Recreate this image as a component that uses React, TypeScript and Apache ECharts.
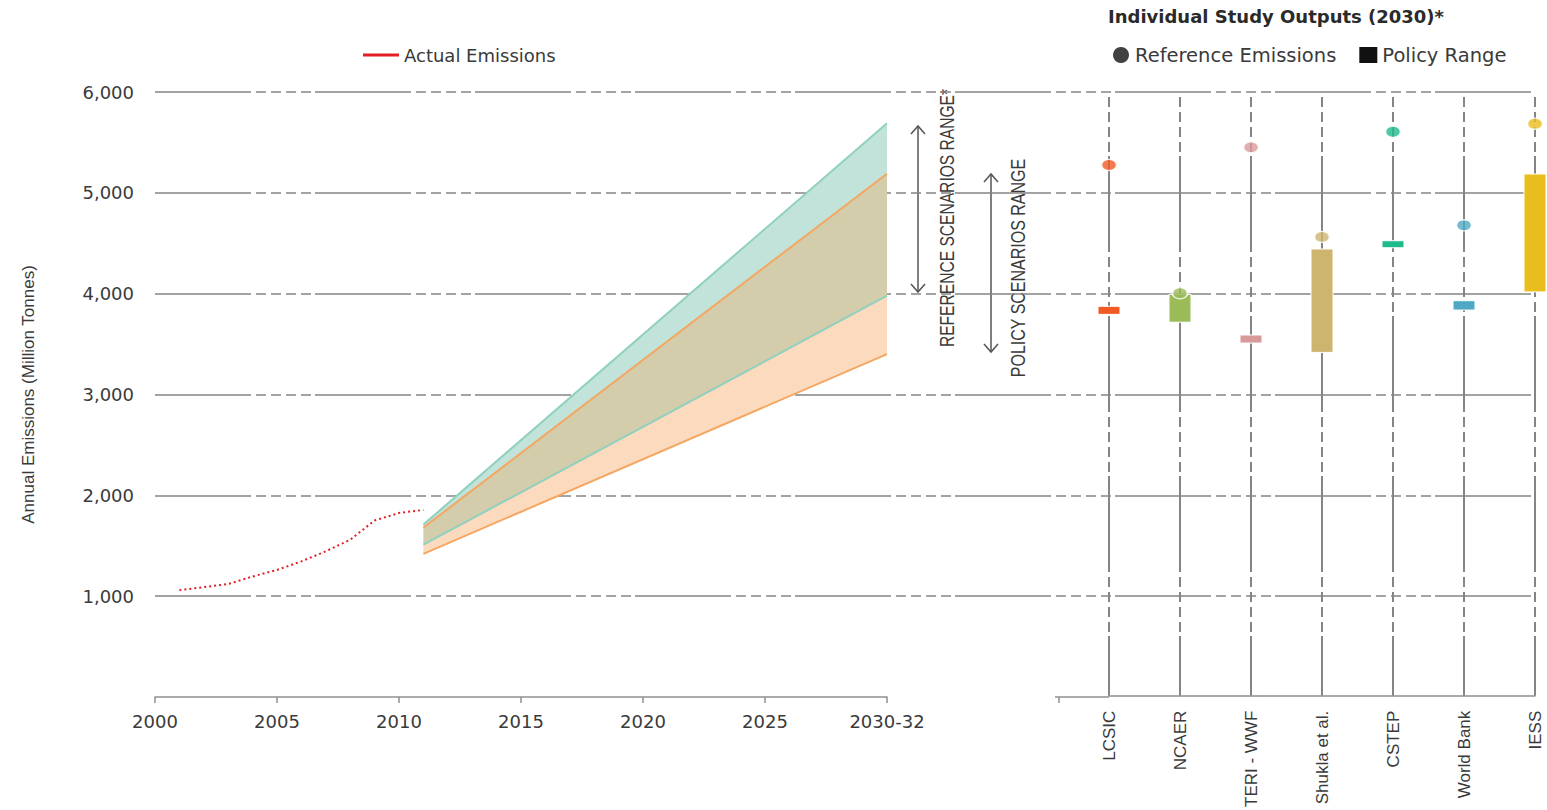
import React, { useEffect, useRef } from "react";
import * as echarts from "echarts";

// ---------- data ----------
const actualYears = [2001, 2002, 2003, 2004, 2005, 2006, 2007, 2008, 2009, 2010, 2011];
const actualValues = [1060, 1090, 1120, 1195, 1260, 1345, 1445, 1560, 1750, 1825, 1855];

const projYears = [2011, 2030];
const refHigh = [1710, 5690];
const refLow = [1510, 3980];
const polHigh = [1680, 5190];
const polLow = [1420, 3400];

const studies = ["LCSIC", "NCAER", "TERI - WWF", "Shukla et al.", "CSTEP", "World Bank", "IESS"];
const refEmissions = [5275, 4000, 5450, 4560, 5605, 4675, 5685];
const policyLow = [3790, 3712, 3505, 3412, 4452, 3833, 4013];
const policyHigh = [3870, 3990, 3585, 4440, 4522, 3926, 5185];
const studyColors = ["#f15a24", "#9bbb59", "#d9999a", "#cdb56f", "#1fba8b", "#4fa9c4", "#e8bd1d"];

const yTickLabels = ["", "1,000", "2,000", "3,000", "4,000", "5,000", "6,000"];
const xTickLabels = ["2000", "2005", "2010", "2015", "2020", "2025", "2030-32"];

// ---------- styles ----------
const NARROW = "'Liberation Sans', Arial, sans-serif";
const WIDE = "'DejaVu Sans', sans-serif";
const TEXT = "#3a3a3a";
const GRID = "#858585";
const DASH = [96, 5, 10, 5, 10, 5, 10, 5, 10, 4];

export default function App() {
  const ref = useRef<HTMLDivElement>(null);

  useEffect(() => {
    if (!ref.current) return;
    const chart = echarts.init(ref.current, null, { renderer: "svg" });

    const pair = (xs: number[], ys: number[]) => xs.map((x, i) => [x, ys[i]]);

    const band = (lower: number[], upper: number[], color: string, z: number) => ({
      type: "custom",
      xAxisIndex: 0,
      yAxisIndex: 0,
      silent: true,
      z,
      data: projYears.map((x, i) => [x, lower[i], upper[i]]),
      encode: { x: 0, y: [1, 2] },
      renderItem: (params: any, api: any) => {
        if (params.dataIndex !== 0) return { type: "group", children: [] };
        const pts: number[][] = [];
        for (let i = 0; i < projYears.length; i++) pts.push(api.coord([projYears[i], upper[i]]));
        for (let i = projYears.length - 1; i >= 0; i--) pts.push(api.coord([projYears[i], lower[i]]));
        return { type: "polygon", shape: { points: pts }, style: { fill: color } };
      },
    });

    const edge = (ys: number[], color: string, z: number) => ({
      type: "line",
      xAxisIndex: 0,
      yAxisIndex: 0,
      data: pair(projYears, ys),
      symbol: "none",
      lineStyle: { color, width: 2 },
      silent: true,
      z,
    });

    const option: any = {
      animation: false,
      backgroundColor: "#ffffff",
      grid: [
        { left: 155, top: 92, width: 732, height: 605 },
        { left: 155, top: 92, width: 1380, height: 605 },
        { left: 1109, top: 92, width: 426, height: 605 },
      ],
      legend: [
        {
          left: 358,
          top: 41,
          selectedMode: false,
          itemWidth: 36,
          itemHeight: 3,
          icon: "rect",
          data: [{ name: "Actual Emissions", itemStyle: { color: "#e31e24" } }],
          textStyle: { fontFamily: WIDE, fontSize: 18, color: TEXT },
        },
        {
          left: 1108,
          top: 40,
          selectedMode: false,
          itemWidth: 18,
          itemHeight: 16,
          itemGap: 23,
          data: [
            { name: "Reference Emissions", icon: "circle", itemStyle: { color: "#111" } },
            { name: "Policy Range", icon: "rect", itemStyle: { color: "#111" } },
          ],
          textStyle: { fontFamily: WIDE, fontSize: 19.5, color: TEXT },
        },
      ],
      xAxis: [
        {
          type: "value",
          gridIndex: 0,
          min: 2000,
          max: 2030,
          interval: 5,
          axisLine: { onZero: false, lineStyle: { color: "#8f8f8f", width: 1.5 } },
          axisTick: { show: true, length: 6, lineStyle: { color: "#8f8f8f", width: 1.5 } },
          axisLabel: {
            margin: 15,
            fontFamily: WIDE,
            fontSize: 18,
            color: TEXT,
            formatter: (v: number) => xTickLabels[Math.round((v - 2000) / 5)] ?? "",
          },
          splitLine: { show: false },
        },
        { type: "value", gridIndex: 1, min: 0, max: 1, show: false },
        {
          type: "category",
          gridIndex: 2,
          data: studies,
          boundaryGap: false,
          axisLine: { show: true, onZero: false, lineStyle: { color: "#8f8f8f", width: 1.5 } },
          axisTick: { show: false },
          axisLabel: {
            rotate: 90,
            margin: 15,
            fontFamily: NARROW,
            fontSize: 17,
            color: TEXT,
            interval: 0,
          },
          splitLine: {
            show: true,
            lineStyle: { color: GRID, width: 2, type: DASH, dashOffset: 96 },
          },
        },
      ],
      yAxis: [
        {
          type: "value",
          gridIndex: 0,
          min: 0,
          max: 6000,
          interval: 1000,
          name: "Annual Emissions (Million Tonnes)",
          nameLocation: "middle",
          nameRotate: 90,
          nameGap: 118,
          nameTextStyle: { fontFamily: NARROW, fontSize: 17, color: TEXT },
          axisLine: { show: false },
          axisTick: { show: false },
          splitLine: { show: false },
          axisLabel: {
            margin: 21,
            fontFamily: WIDE,
            fontSize: 18,
            color: TEXT,
            formatter: (v: number) => yTickLabels[Math.round(v / 1000)] ?? "",
          },
        },
        {
          type: "value",
          gridIndex: 1,
          min: 0,
          max: 6000,
          interval: 1000,
          axisLine: { show: false },
          axisTick: { show: false },
          axisLabel: { show: false },
          splitLine: {
            show: true,
            showMinLine: false,
            lineStyle: { color: GRID, width: 1.5, type: DASH },
          },
        },
        { type: "value", gridIndex: 2, min: 0, max: 6000, show: false },
      ],
      series: [
        band(polLow, refLow, "#fcdabd", 2),
        band(refLow, polHigh, "#d3cdab", 2),
        band(polHigh, refHigh, "#c1e3da", 2),
        edge(refHigh, "#8fd0be", 3),
        edge(refLow, "#8fd0be", 3),
        edge(polHigh, "#f5a661", 4),
        edge(polLow, "#f5a661", 4),
        {
          name: "Actual Emissions",
          type: "line",
          xAxisIndex: 0,
          yAxisIndex: 0,
          data: pair(actualYears, actualValues),
          symbol: "none",
          color: "#e31e24",
          lineStyle: { color: "#e31e24", width: 2, type: [2, 3] },
          z: 5,
        },
        {
          name: "Policy Range",
          type: "custom",
          xAxisIndex: 2,
          yAxisIndex: 2,
          data: studies.map((_, i) => [i, policyLow[i], policyHigh[i]]),
          encode: { x: 0, y: [1, 2] },
          renderItem: (params: any, api: any) => {
            const x = api.value(0);
            const lo = api.coord([x, api.value(1)]);
            const hi = api.coord([x, api.value(2)]);
            const w = 22;
            return {
              type: "rect",
              shape: { x: lo[0] - w / 2, y: hi[1], width: w, height: lo[1] - hi[1] },
              style: { fill: studyColors[params.dataIndex], stroke: "#ffffff", lineWidth: 1 },
            };
          },
          z: 5,
        },
        {
          name: "Reference Emissions",
          type: "scatter",
          xAxisIndex: 2,
          yAxisIndex: 2,
          symbol: "circle",
          symbolSize: [15, 11],
          data: studies.map((_, i) => ({
            value: [i, refEmissions[i]],
            itemStyle: { color: studyColors[i], borderColor: "#ffffff", borderWidth: 1.5 },
          })),
          z: 6,
        },
      ],
      graphic: [
        {
          type: "text",
          left: 1108,
          top: 7,
          style: {
            text: "Individual Study Outputs (2030)*",
            font: `bold 18px ${WIDE}`,
            fill: "#2a2a2a",
          },
        },
        {
          type: "line",
          shape: { x1: 1055, y1: 697, x2: 1109, y2: 697 },
          style: { stroke: "#8f8f8f", lineWidth: 1.5 },
        },
        {
          type: "line",
          shape: { x1: 1059, y1: 697, x2: 1059, y2: 703 },
          style: { stroke: "#8f8f8f", lineWidth: 1.5 },
        },
        {
          type: "line",
          shape: { x1: 918, y1: 126, x2: 918, y2: 292 },
          style: { stroke: "#555", lineWidth: 1.5 },
        },
        {
          type: "polyline",
          shape: { points: [[911, 134], [918, 126], [925, 134]] },
          style: { stroke: "#555", lineWidth: 1.5, fill: null },
        },
        {
          type: "polyline",
          shape: { points: [[911, 284], [918, 292], [925, 284]] },
          style: { stroke: "#555", lineWidth: 1.5, fill: null },
        },
        {
          type: "text",
          x: 947,
          y: 218,
          rotation: Math.PI / 2,
          scaleX: 0.78,
          style: {
            text: "REFERENCE SCENARIOS RANGE*",
            font: `20px ${NARROW}`,
            fill: TEXT,
            align: "center",
            verticalAlign: "middle",
          },
        },
        {
          type: "line",
          shape: { x1: 991, y1: 174, x2: 991, y2: 352 },
          style: { stroke: "#555", lineWidth: 1.5 },
        },
        {
          type: "polyline",
          shape: { points: [[984, 182], [991, 174], [998, 182]] },
          style: { stroke: "#555", lineWidth: 1.5, fill: null },
        },
        {
          type: "polyline",
          shape: { points: [[984, 344], [991, 352], [998, 344]] },
          style: { stroke: "#555", lineWidth: 1.5, fill: null },
        },
        {
          type: "text",
          x: 1018,
          y: 268,
          rotation: Math.PI / 2,
          scaleX: 0.8,
          style: {
            text: "POLICY SCENARIOS RANGE",
            font: `20px ${NARROW}`,
            fill: TEXT,
            align: "center",
            verticalAlign: "middle",
          },
        },
      ],
    };

    chart.setOption(option);
    return () => chart.dispose();
  }, []);

  return (
    <div
      ref={ref}
      style={{ position: "absolute", left: 0, top: 0, width: 1547, height: 810 }}
    />
  );
}
